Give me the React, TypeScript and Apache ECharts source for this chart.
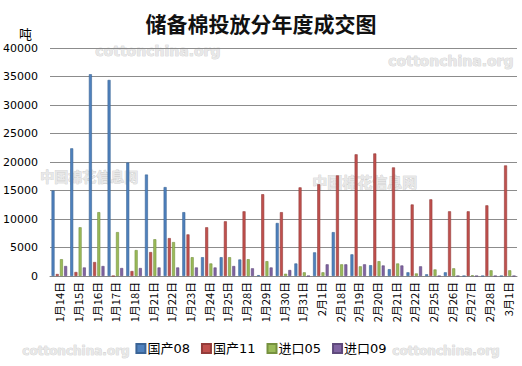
import React, { useEffect, useRef } from "react";
import * as echarts from "echarts";

const categories = [
  "1月14日", "1月15日", "1月16日", "1月17日", "1月18日", "1月21日", "1月22日",
  "1月23日", "1月24日", "1月25日", "1月28日", "1月29日", "1月30日", "1月31日",
  "2月1日", "2月18日", "2月19日", "2月20日", "2月21日", "2月22日", "2月25日",
  "2月26日", "2月27日", "2月28日", "3月1日",
];
const seriesNames = ["国产08", "国产11", "进口05", "进口09"];
const guochan08 = [15000, 22400, 35400, 34400, 19900, 17800, 15600, 11200, 3300, 3300, 2900, 150, 9300, 2200, 4150, 7700, 3800, 1900, 1200, 650, 300, 650, 0, 0, 0];
const guochan11 = [350, 700, 2450, 0, 870, 4200, 6650, 7300, 8550, 9600, 11350, 14350, 11200, 15550, 16100, 17650, 21350, 21500, 19050, 12550, 13450, 11350, 11350, 12400, 19400];
const jinkou05 = [2950, 8550, 11200, 7700, 4550, 6450, 5950, 3300, 2200, 3300, 2950, 2600, 400, 650, 650, 2050, 1700, 2600, 2200, 450, 1150, 1350, 120, 1000, 1000];
const jinkou09 = [1750, 1500, 1750, 1400, 1400, 1500, 1500, 1500, 1500, 1750, 1350, 1500, 1050, 0, 2050, 2050, 2050, 1850, 1850, 1700, 0, 0, 0, 0, 0];
const yTicks = [0, 40000, 5000];

const colors = ["#4F81BD", "#C0504D", "#9BBB59", "#8064A2"];
const borders = ["#3A6496", "#943C3A", "#76913F", "#5F4A7C"];

export default function App() {
  const ref = useRef<HTMLDivElement>(null);
  useEffect(() => {
    if (!ref.current) return;
    const chart = echarts.init(ref.current, null, { renderer: "svg" });
    const data = [guochan08, guochan11, jinkou05, jinkou09];
    const wm = { fill: "#e8e8e8", stroke: "#c4c4c4", lineWidth: 0.6, fontWeight: "bold", fontFamily: "DejaVu Sans, sans-serif" } as any;
    chart.setOption({
      animation: false,
      backgroundColor: "#ffffff",
      title: {
        text: "储备棉投放分年度成交图",
        left: "center",
        top: 7,
        textStyle: { fontSize: 21, fontWeight: "bold", color: "#111", fontFamily: "Noto Sans CJK SC" },
      },
      graphic: [
        { type: "text", left: 19, top: 27, style: { text: "吨", fontSize: 13, fill: "#000", fontFamily: "Noto Sans CJK SC" } },
        { type: "text", z: -1, left: 95, top: 44, style: { ...wm, text: "cottonchina.org", fontSize: 14 } },
        { type: "text", z: -1, left: 388, top: 54, style: { ...wm, text: "cottonchina.org", fontSize: 14 } },
        { type: "text", z: -1, left: 22, top: 345, style: { ...wm, text: "cottonchina.org", fontSize: 12 } },
        { type: "text", z: -1, left: 392, top: 345, style: { ...wm, text: "cottonchina.org", fontSize: 12 } },
        { type: "text", z: -1, left: 40, top: 169, style: { ...wm, text: "中国棉花信息网", fontSize: 14, fontFamily: "Noto Sans CJK SC" } },
        { type: "text", z: -1, left: 312, top: 174, style: { ...wm, text: "中国棉花信息网", fontSize: 15, fontFamily: "Noto Sans CJK SC" } },
      ],
      legend: {
        bottom: 6,
        left: "center",
        itemWidth: 9,
        itemHeight: 9,
        itemGap: 11,
        icon: "rect",
        textStyle: { fontSize: 13, color: "#000", fontFamily: "DejaVu Sans, Noto Sans CJK SC", padding: [0, 0, 0, -3] },
        data: seriesNames,
      },
      grid: { left: 50, right: 5, top: 48, bottom: 90, containLabel: false },
      xAxis: {
        type: "category",
        data: categories,
        axisLine: { show: true, lineStyle: { color: "#888", width: 1 } },
        axisTick: { show: false },
        axisLabel: {
          rotate: 90,
          interval: 0,
          fontSize: 11,
          color: "#000",
          margin: 6,
          fontFamily: "Noto Sans CJK SC",
        },
      },
      yAxis: {
        type: "value",
        min: yTicks[0],
        max: yTicks[1],
        interval: yTicks[2],
        axisLine: { show: false },
        axisTick: { show: false },
        splitLine: { lineStyle: { color: "#8c8c8c", width: 1 } },
        axisLabel: { fontSize: 11, color: "#000", margin: 12, fontFamily: "DejaVu Sans", formatter: (v: number) => String(v) },
      },
      series: data.map((d, i) => ({
        name: seriesNames[i],
        type: "bar",
        data: d,
        barWidth: 3,
        barGap: "40%",
        itemStyle: { color: colors[i], borderColor: borders[i], borderWidth: 0.6 },
      })),
    });
    return () => chart.dispose();
  }, []);
  return <div ref={ref} style={{ position: "absolute", left: 0, top: 0, width: 522, height: 366 }} />;
}
